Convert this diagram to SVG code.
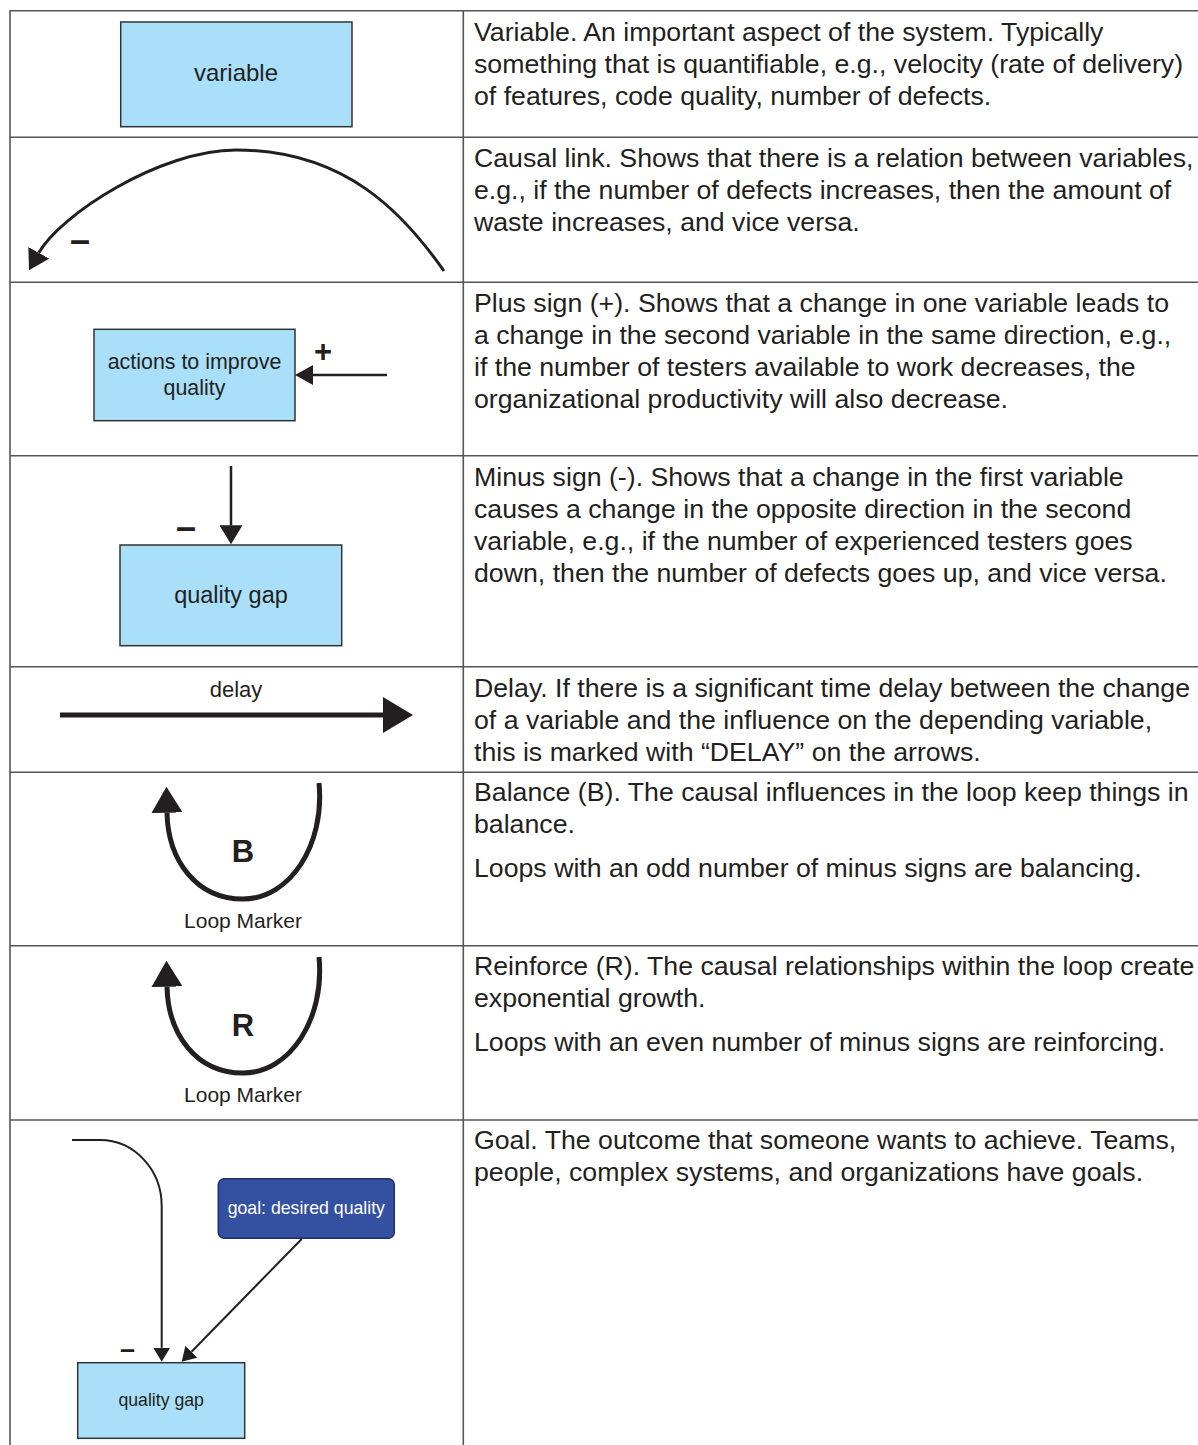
<svg xmlns="http://www.w3.org/2000/svg" width="1198" height="1445" viewBox="0 0 1198 1445">
  <style>
    .grid { stroke: #555; stroke-width: 1.6; fill: none; }
    .desc { font-family: "Liberation Sans", Arial, sans-serif; font-size: 26.7px; fill: #231f20; }
    .lbl { font-family: "Liberation Sans", Arial, sans-serif; fill: #231f20; text-anchor: middle; }
    .box { fill: #a9dff8; stroke: #333; stroke-width: 1.5; }
    .goal { fill: #3450a0; stroke: #1f2f6a; stroke-width: 1.5; }
    .sign { font-family: "Liberation Sans", Arial, sans-serif; font-weight: bold; fill: #231f20; }
    .link { fill: none; stroke: #231f20; }
  </style>
  <defs>
    <marker id="headArc" markerUnits="userSpaceOnUse" viewBox="0 0 20 24" markerWidth="20" markerHeight="24" refX="0" refY="12" orient="auto">
      <path d="M0,0 L20,12 L0,24 Z" fill="#231f20"/>
    </marker>
    <marker id="headPlus" markerUnits="userSpaceOnUse" viewBox="0 0 18 20" markerWidth="18" markerHeight="20" refX="0" refY="10" orient="auto">
      <path d="M0,0 L18,10 L0,20 Z" fill="#231f20"/>
    </marker>
    <marker id="headMinus" markerUnits="userSpaceOnUse" viewBox="0 0 19 23" markerWidth="19" markerHeight="23" refX="0" refY="11.5" orient="auto">
      <path d="M0,0 L19,11.5 L0,23 Z" fill="#231f20"/>
    </marker>
    <marker id="headDelay" markerUnits="userSpaceOnUse" viewBox="0 0 30 36" markerWidth="30" markerHeight="36" refX="0" refY="18" orient="auto">
      <path d="M0,0 L30,18 L0,36 Z" fill="#231f20"/>
    </marker>
    <marker id="headLoop" markerUnits="userSpaceOnUse" viewBox="0 0 26 31" markerWidth="26" markerHeight="31" refX="0" refY="15.5" orient="auto">
      <path d="M0,0 L26,15.5 L0,31 Z" fill="#231f20"/>
    </marker>
    <marker id="headGoal" markerUnits="userSpaceOnUse" viewBox="0 0 14 17" markerWidth="14" markerHeight="17" refX="0" refY="8.5" orient="auto">
      <path d="M0,0 L14,8.5 L0,17 Z" fill="#231f20"/>
    </marker>
  </defs>

  <rect width="1198" height="1445" fill="#fff"/>

  <!-- table rules -->
  <g id="table" class="grid">
    <line x1="10" y1="10.7" x2="1198" y2="10.7"/>
    <line x1="10" y1="137.3" x2="1198" y2="137.3"/>
    <line x1="10" y1="282.3" x2="1198" y2="282.3"/>
    <line x1="10" y1="455.7" x2="1198" y2="455.7"/>
    <line x1="10" y1="666.7" x2="1198" y2="666.7"/>
    <line x1="10" y1="772.3" x2="1198" y2="772.3"/>
    <line x1="10" y1="945.7" x2="1198" y2="945.7"/>
    <line x1="10" y1="1120" x2="1198" y2="1120"/>
    <line x1="10" y1="10" x2="10" y2="1445"/>
    <line x1="463.3" y1="10" x2="463.3" y2="1445"/>
  </g>

  <!-- legend symbols: nodes -->
  <g id="node-variable">
    <rect class="box" x="120.7" y="22" width="231.3" height="104.7"/>
    <text class="lbl" x="236" y="81" font-size="24">variable</text>
  </g>

  <g id="node-actions">
    <rect class="box" x="94" y="329.3" width="201" height="91.4"/>
    <text class="lbl" x="194.5" y="368.5" font-size="21.4">actions to improve</text>
    <text class="lbl" x="194.5" y="394.5" font-size="21.4">quality</text>
  </g>

  <g id="node-quality-gap">
    <rect class="box" x="120" y="545" width="221.7" height="100.7"/>
    <text class="lbl" x="231" y="602.5" font-size="23.5">quality gap</text>
  </g>

  <g id="node-goal">
    <rect class="goal" x="218.3" y="1178.7" width="176" height="59.6" rx="6"/>
    <text class="lbl" x="306.3" y="1213.5" font-size="17.7" style="fill:#fff">goal: desired quality</text>
  </g>

  <g id="node-quality-gap-2">
    <rect class="box" x="77.7" y="1362.7" width="167" height="75.6"/>
    <text class="lbl" x="161.2" y="1405.5" font-size="17.7">quality gap</text>
  </g>

  <!-- connectors -->
  <g id="connectors">
    <path class="link" stroke-width="3" d="M444,271 C404,214 346,150 236,150 C160,150 60,215 38.8,252.8" marker-end="url(#headArc)"/>
    <line class="link" stroke-width="2.5" x1="387" y1="375" x2="313" y2="375" marker-end="url(#headPlus)"/>
    <line class="link" stroke-width="2.5" x1="231" y1="466" x2="231" y2="525.3" marker-end="url(#headMinus)"/>
    <line class="link" stroke-width="5" x1="60" y1="715" x2="383" y2="715" marker-end="url(#headDelay)"/>
    <path class="link" stroke-width="5" d="M319,783 C325,845 290,899 243,899 C196,899 168,860 167,812.7" marker-end="url(#headLoop)"/>
    <path class="link" stroke-width="5" d="M319,957 C325,1019 290,1073 243,1073 C196,1073 168,1034 167,986.7" marker-end="url(#headLoop)"/>
    <path class="link" stroke-width="2" d="M72,1140 L100,1140 A61.7 66 0 0 1 161.7,1206 L161.7,1347.7" marker-end="url(#headGoal)"/>
    <line class="link" stroke-width="2" x1="301.7" y1="1239" x2="191.5" y2="1351.7" marker-end="url(#headGoal)"/>
  </g>

  <!-- polarity signs and loop labels -->
  <g id="labels">
    <text class="sign" x="70" y="251.5" font-size="36">–</text>
    <text class="sign" x="323" y="362" font-size="31" text-anchor="middle">+</text>
    <text class="sign" x="176" y="539" font-size="36">–</text>
    <text class="lbl" x="236" y="697" font-size="22">delay</text>
    <text class="sign" x="243" y="862" font-size="31" text-anchor="middle">B</text>
    <text class="lbl" x="243" y="928" font-size="21">Loop Marker</text>
    <text class="sign" x="243" y="1036" font-size="31" text-anchor="middle">R</text>
    <text class="lbl" x="243" y="1102" font-size="21">Loop Marker</text>
    <text class="sign" x="120" y="1358" font-size="27">–</text>
  </g>

  <!-- descriptions -->
  <g id="descriptions" class="desc">
    <text x="474" y="40.7">Variable. An important aspect of the system. Typically</text>
    <text x="474" y="72.7">something that is quantifiable, e.g., velocity (rate of delivery)</text>
    <text x="474" y="104.7">of features, code quality, number of defects.</text>

    <text x="474" y="167">Causal link. Shows that there is a relation between variables,</text>
    <text x="474" y="199">e.g., if the number of defects increases, then the amount of</text>
    <text x="474" y="231">waste increases, and vice versa.</text>

    <text x="474" y="312">Plus sign (+). Shows that a change in one variable leads to</text>
    <text x="474" y="344">a change in the second variable in the same direction, e.g.,</text>
    <text x="474" y="376">if the number of testers available to work decreases, the</text>
    <text x="474" y="408">organizational productivity will also decrease.</text>

    <text x="474" y="485.5">Minus sign (-). Shows that a change in the first variable</text>
    <text x="474" y="517.5">causes a change in the opposite direction in the second</text>
    <text x="474" y="549.5">variable, e.g., if the number of experienced testers goes</text>
    <text x="474" y="581.5">down, then the number of defects goes up, and vice versa.</text>

    <text x="474" y="696.5">Delay. If there is a significant time delay between the change</text>
    <text x="474" y="728.5">of a variable and the influence on the depending variable,</text>
    <text x="474" y="760.5">this is marked with “DELAY” on the arrows.</text>

    <text x="474" y="801">Balance (B). The causal influences in the loop keep things in</text>
    <text x="474" y="833">balance.</text>
    <text x="474" y="877">Loops with an odd number of minus signs are balancing.</text>

    <text x="474" y="975">Reinforce (R). The causal relationships within the loop create</text>
    <text x="474" y="1007">exponential growth.</text>
    <text x="474" y="1051">Loops with an even number of minus signs are reinforcing.</text>

    <text x="474" y="1149">Goal. The outcome that someone wants to achieve. Teams,</text>
    <text x="474" y="1181">people, complex systems, and organizations have goals.</text>
  </g>
</svg>
